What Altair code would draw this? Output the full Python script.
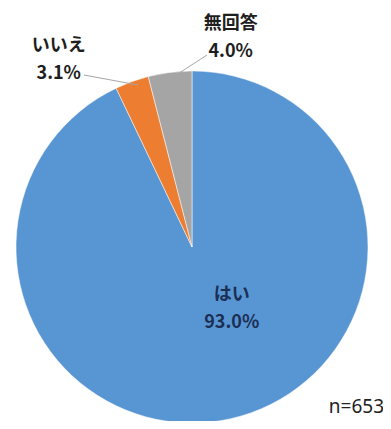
import altair as alt
import pandas as pd

categories = ["はい", "いいえ", "無回答"]
values = [93.0, 3.1, 4.0]
pct_labels = ["93.0%", "3.1%", "4.0%"]
colors = ["#5896D3", "#ED7D31", "#A5A5A5"]
note = "n=653"

df = pd.DataFrame({
    "cat": categories,
    "value": values,
    "order": [0, 1, 2],
    "label": [c + "\n" + p for c, p in zip(categories, pct_labels)],
})

CX, CY, R = 184, 239, 176
FONT = "Noto Sans CJK JP"

base = alt.Chart(df).encode(
    theta=alt.Theta("value:Q", stack=True),
    order=alt.Order("order:Q"),
    x=alt.value(CX),
    y=alt.value(CY),
)

arcs = base.mark_arc(outerRadius=R, stroke="#ffffff", strokeWidth=0.5).encode(
    color=alt.Color("cat:N", scale=alt.Scale(domain=categories, range=colors), legend=None)
)


def label_layer(cat, radius, dx, dy, color):
    return base.mark_text(
        radius=radius, dx=dx, dy=dy, font=FONT, fontSize=18, fontWeight="bold",
        lineBreak="\n", lineHeight=28, align="center", baseline="middle", color=color,
    ).encode(
        text=alt.condition(alt.datum.cat == cat, alt.Text("label:N"), alt.value(""))
    )


lab_yes = label_layer("はい", 62, 26, -12, "#1B2F55")
lab_no = label_layer("いいえ", 200, -65, -13, "#1E1E1E")
lab_na = label_layer("無回答", 210, 65, -15, "#1E1E1E")

lead_df = pd.DataFrame({"k": ["a", "b"]})
lead1 = alt.Chart(lead_df).transform_filter(alt.datum.k == "a").mark_rule(
    color="#A6A6A6", strokeWidth=1
).encode(x=alt.value(76), y=alt.value(67), x2=alt.value(130), y2=alt.value(77))
lead2 = alt.Chart(lead_df).transform_filter(alt.datum.k == "b").mark_rule(
    color="#A6A6A6", strokeWidth=1
).encode(x=alt.value(199), y=alt.value(47), x2=alt.value(165), y2=alt.value(69))

note_df = pd.DataFrame({"t": [note]})
note_txt = alt.Chart(note_df).mark_text(
    font="Noto Sans", fontSize=19, align="right", baseline="alphabetic", color="#222222"
).encode(text="t:N", x=alt.value(376), y=alt.value(405))

chart = alt.layer(arcs, lead1, lead2, lab_yes, lab_no, lab_na, note_txt).properties(
    width=375, height=413, autosize=alt.AutoSizeParams(type="none"), padding=0
).configure_view(stroke=None)

chart.save("out.html", embed_options={"renderer": "svg", "actions": False})
